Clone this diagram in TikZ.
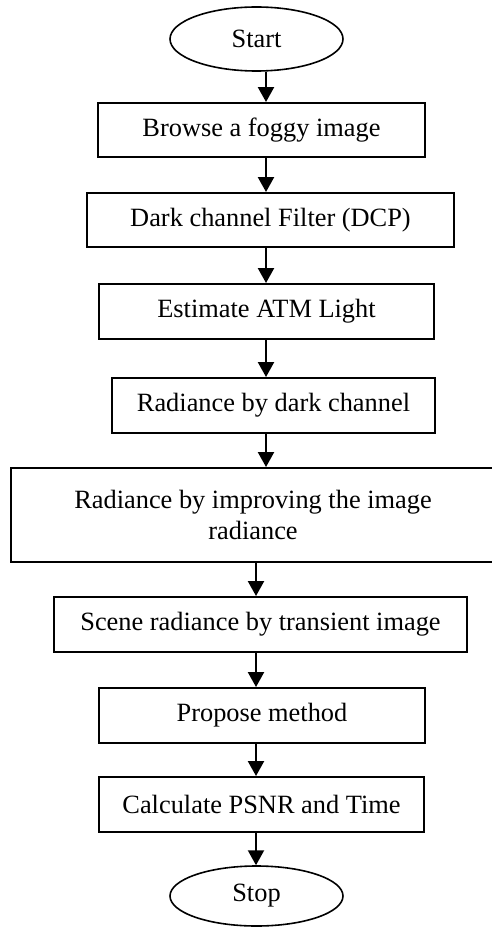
\documentclass[tikz,border=0pt]{standalone}
\usepackage{fontspec}
\setmainfont{Liberation Serif}
\usetikzlibrary{shapes.geometric,arrows.meta}
\newdimen\px
\px=0.455pt

\begin{document}
\begin{tikzpicture}[x=0.455pt,y=-0.455pt]
  \tikzset{BoxStyle/.style 2 args = {
    shape          = rectangle,
    draw           = black,
    fill           = white,
    line width     = 2\px,
    text           = black,
    inner sep      = 0pt,
    align          = center,
    minimum width  = #1\px,
    minimum height = #2\px,
    font           = \fontsize{12}{14.5}\selectfont
    }
  }
  \tikzset{TermStyle/.style = {
    BoxStyle       = {173}{64},
    shape          = ellipse,
    line width     = 1.6\px
    }
  }
  \tikzset{FlowStyle/.style = {
    draw           = black,
    line width     = 2\px,
    -{Triangle[length=6.8pt,width=7.3pt]}
    }
  }

  \useasboundingbox (0,0) rectangle (492,927);

  \node[TermStyle](Start) at (256.5, 39) {Start};
  \node[BoxStyle={327}{54}](Browse) at (261.5, 130) {Browse a foggy image};
  \node[BoxStyle={367}{54}](Dcp) at (270.5, 220) {Dark channel Filter (DCP)};
  \node[BoxStyle={335}{55}](Atm) at (266.5, 311.5) {Estimate ATM Light};
  \node[BoxStyle={323}{55}](DarkRad) at (273.5, 405.5) {Radiance by dark channel};
  \node[BoxStyle={484}{94}](ImpRad) at (253, 515) {Radiance by improving the image\\radiance};
  \node[BoxStyle={413}{55}](SceneRad) at (260.5, 624.5) {Scene radiance by transient image};
  \node[BoxStyle={326}{55}](Propose) at (262, 715.5) {Propose method};
  \node[BoxStyle={325}{55}](Psnr) at (261.5, 804.5) {Calculate PSNR and Time};
  \node[TermStyle, minimum height=60\px](Stop) at (256.5, 896) {Stop};

  % the arrows run down two vertical lines
  \coordinate (UpperLine) at (266, 0);
  \coordinate (LowerLine) at (256, 0);

  \draw[FlowStyle](Start.south -| UpperLine) -- (Browse.north -| UpperLine);
  \draw[FlowStyle](Browse.south -| UpperLine) -- (Dcp.north -| UpperLine);
  \draw[FlowStyle](Dcp.south -| UpperLine) -- (Atm.north -| UpperLine);
  \draw[FlowStyle](Atm.south -| UpperLine) -- (DarkRad.north -| UpperLine);
  \draw[FlowStyle](DarkRad.south -| UpperLine) -- (ImpRad.north -| UpperLine);
  \draw[FlowStyle](ImpRad.south -| LowerLine) -- (SceneRad.north -| LowerLine);
  \draw[FlowStyle](SceneRad.south -| LowerLine) -- (Propose.north -| LowerLine);
  \draw[FlowStyle](Propose.south -| LowerLine) -- (Psnr.north -| LowerLine);
  \draw[FlowStyle](Psnr.south -| LowerLine) -- (Stop.north -| LowerLine);

\end{tikzpicture}
\end{document}
